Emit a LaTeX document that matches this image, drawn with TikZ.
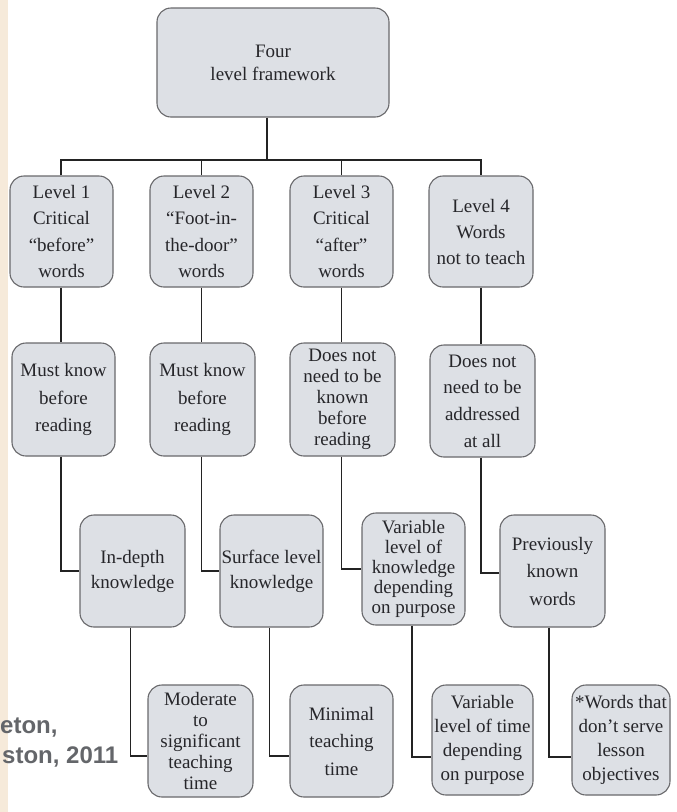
\documentclass[tikz,border=0pt]{standalone}
\usepackage{fontspec}
\setmainfont{Liberation Serif}
\newfontfamily\citefont{Liberation Sans}
\usetikzlibrary{calc}
\definecolor{boxfill}{RGB}{221,224,229}
\definecolor{boxline}{RGB}{105,105,108}
\definecolor{txt}{RGB}{38,38,42}
\definecolor{wire}{RGB}{35,35,35}
\definecolor{citegray}{RGB}{100,102,106}
\definecolor{beige}{RGB}{246,234,218}
\tikzset{
  fbox/.style={draw=boxline, fill=boxfill, line width=1.1pt, rounded corners=14pt,
    align=center, inner sep=1pt, text=txt, minimum width=103pt, minimum height=112pt,
    font={\fontsize{19}{25}\selectfont}},
  ls/.style={font={\fontsize{19}{#1}\selectfont}},
  wirestyle/.style={draw=wire, line width=1.6pt},
  cite/.style={inner sep=0pt, text=citegray, font={\citefont\bfseries\fontsize{24}{30}\selectfont}}
}
\begin{document}
\begin{tikzpicture}[x=1pt,y=-1pt]
\useasboundingbox (0,0) rectangle (677,812);
\fill[white] (0,0) rectangle (677,812);
\fill[beige] (0,0) rectangle (8,812);

% top
\node[fbox, minimum width=232pt, minimum height=109pt, ls=23] (top) at (273,62.5) {Four\\level framework};

% level row
\node[fbox, minimum height=111pt, ls=26.5] (L1) at (61.5,231.5) {Level 1\\Critical\\“before”\\words};
\node[fbox, minimum height=111pt, ls=26.5] (L2) at (201.5,231.5) {Level 2\\“Foot-in-\\the-door”\\words};
\node[fbox, minimum height=111pt, ls=26.5] (L3) at (341.5,231.5) {Level 3\\Critical\\“after”\\words};
\node[fbox, minimum height=111pt, minimum width=104pt, ls=26] (L4) at (481,231.5) {Level 4\\Words\\not to teach};

% row 2
\node[fbox, minimum height=113pt, ls=27.5] (R1) at (63.5,399.5) {Must know\\before\\reading};
\node[fbox, minimum height=113pt, minimum width=105pt, ls=27.5] (R2) at (202.5,399.5) {Must know\\before\\reading};
\node[fbox, minimum height=113pt, minimum width=105pt, ls=21] (R3) at (342.5,399.5) {Does not\\need to be\\known\\before\\reading};
\node[fbox, minimum height=112pt, minimum width=105pt, ls=26.7] (R4) at (482.5,401) {Does not\\need to be\\addressed\\at all};

% row 3
\node[fbox, minimum width=105pt, ls=25] (I1) at (132.5,571) {In-depth\\knowledge};
\node[fbox, ls=25] (I2) at (271.5,571) {Surface level\\knowledge};
\node[fbox, ls=20] (I3) at (413.5,569) {Variable\\level of\\knowledge\\depending\\on purpose};
\node[fbox, minimum width=105pt, ls=27.5] (I4) at (552.5,571) {Previously\\known\\words};

% row 4
\node[fbox, minimum width=105pt, ls=20.8] (M1) at (200.5,741) {Moderate\\to\\significant\\teaching\\time};
\node[fbox, ls=27.5] (M2) at (341.5,741) {Minimal\\teaching\\time};
\node[fbox, minimum width=101pt, minimum height=110pt, ls=24] (M3) at (482.5,740) {Variable\\level of time\\depending\\on purpose};
\node[fbox, minimum width=98pt, minimum height=110pt, ls=24] (M4) at (621,740) {*Words that\\don’t serve\\lesson\\objectives};

% citation fragments
\node[cite, anchor=base west] (c1) at (0,733) {eton,};
\node[cite, anchor=base west] (c2) at (2,763) {ston, 2011};

% connectors
\coordinate (bar) at (267,160);
\draw[wirestyle] (top.south -| bar) -- (bar);
\draw[wirestyle] (L1.north -| 61,0) -- (61,160) -- (L4.north |- bar) -- (L4.north);
\draw[wirestyle] (L2.north) -- (L2.north |- bar);
\draw[wirestyle] (L3.north) -- (L3.north |- bar);

\draw[wirestyle] (L1.south -| 61,0) -- (R1.north -| 61,0);
\draw[wirestyle] (L2.south) -- (R2.north -| L2.south);
\draw[wirestyle] (L3.south) -- (R3.north -| L3.south);
\draw[wirestyle] (L4.south) -- (R4.north -| L4.south);

\draw[wirestyle] (R1.south -| 61,0) |- (I1.west);
\draw[wirestyle] (R2.south -| L2.south) |- (I2.west);
\draw[wirestyle] (R3.south -| L3.south) |- (I3.west);
\draw[wirestyle] (R4.south -| L4.south) |- ([yshift=-2pt]I4.west);

\draw[wirestyle] ([xshift=-2pt]I1.south) |- ([yshift=-15pt]M1.west);
\draw[wirestyle] ([xshift=-2pt]I2.south) |- ([yshift=-15pt]M2.west);
\draw[wirestyle] ([xshift=-1.5pt]I3.south) |- ([yshift=-17pt]M3.west);
\draw[wirestyle] ([xshift=-3.5pt]I4.south) |- ([yshift=-17pt]M4.west);
\end{tikzpicture}
\end{document}
